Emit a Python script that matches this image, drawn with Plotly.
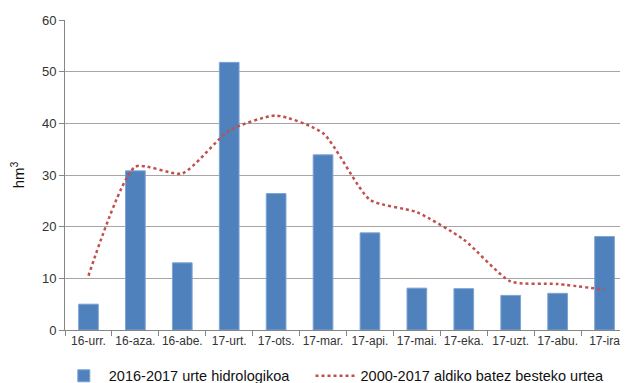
import plotly.graph_objects as go

categories = ["16-urr.", "16-aza.", "16-abe.", "17-urt.", "17-ots.", "17-mar.",
              "17-api.", "17-mai.", "17-eka.", "17-uzt.", "17-abu.", "17-ira"]
hydro_year = [5.0, 30.8, 13.0, 51.8, 26.4, 33.9, 18.8, 8.1, 8.0, 6.7, 7.1, 18.1]
mean_year = [10.5, 31.6, 30.3, 38.6, 41.5, 38.1, 25.2, 22.8, 17.5, 9.4, 8.9, 7.8]
y_ticks = [0, 10, 20, 30, 40, 50, 60]

fig = go.Figure()
fig.add_trace(go.Bar(
    x=categories, y=hydro_year, name="2016-2017 urte hidrologikoa&nbsp;&nbsp;&nbsp;&nbsp;",
    marker=dict(color="#4F81BD", line=dict(color="#7FA3D3", width=1)),
    width=0.42,
))
fig.add_trace(go.Scatter(
    x=categories, y=mean_year, name="2000-2017 aldiko batez besteko urtea",
    mode="lines", line=dict(color="#C0504D", width=2.5, dash="3px,3px", shape="spline", smoothing=0.6),
))

fig.update_layout(
    width=620, height=375,
    margin=dict(l=57, r=0, t=12, b=53, autoexpand=False),
    paper_bgcolor="white", plot_bgcolor="white",
    font=dict(family="Liberation Sans, Arial, sans-serif", size=12, color="#333333"),
    showlegend=True,
    legend=dict(orientation="h", x=-0.011, xanchor="left", y=-0.148, yanchor="middle",
                font=dict(size=14.5, color="#111111"), itemwidth=40, tracegroupgap=0),
    bargap=0.58,
)
fig.update_xaxes(
    showline=True, linecolor="#868686", linewidth=1,
    ticks="outside", tickson="boundaries", ticklen=5, tickcolor="#868686",
    tickfont=dict(size=12, color="#333333"), tickangle=0, automargin=False,
)
fig.update_yaxes(
    range=[0, 60], tickvals=y_ticks, showgrid=True, gridcolor="#A6A6A6", gridwidth=1,
    showline=True, linecolor="#868686", linewidth=1,
    ticks="outside", ticklen=5, tickcolor="#868686",
    tickfont=dict(size=13, color="#333333"),
    title=dict(text="hm<sup>3</sup>", font=dict(size=15, color="#111111"), standoff=16),
    zeroline=False, automargin=False,
)

fig.write_html("out.html")
